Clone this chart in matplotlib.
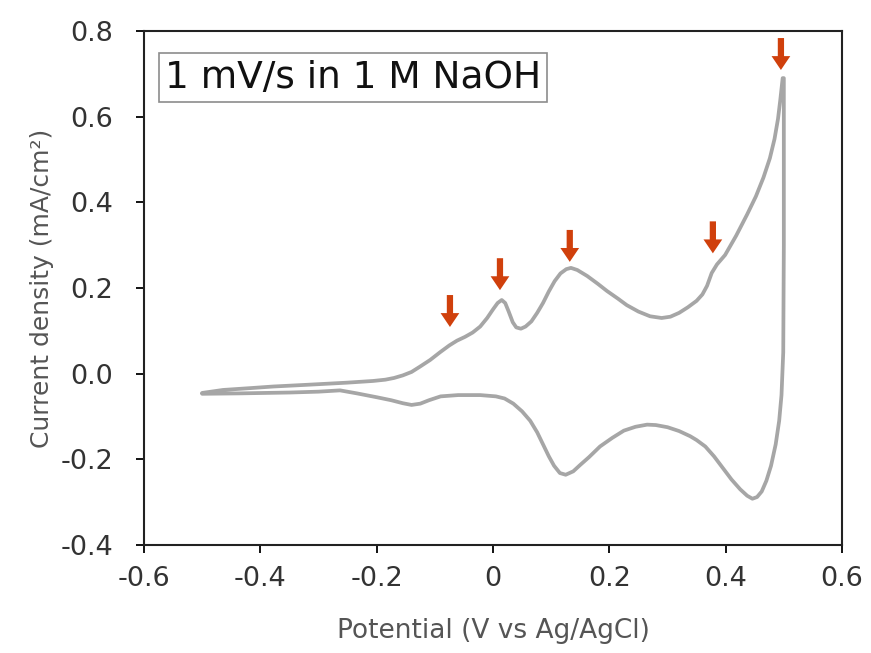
import matplotlib
matplotlib.use("Agg")
import matplotlib.pyplot as plt

# anodic sweep, -0.5 V -> 0.5 V
fwd_v = [-0.500, -0.464, -0.420, -0.378, -0.320, -0.251, -0.206, -0.185, -0.170,
         -0.155, -0.140, -0.126, -0.108, -0.091, -0.075, -0.062, -0.048, -0.035,
         -0.022, -0.010, 0.000, 0.008, 0.015, 0.021, 0.027, 0.034, 0.040, 0.048,
         0.056, 0.066, 0.076, 0.086, 0.096, 0.106, 0.116, 0.126, 0.134, 0.145,
         0.162, 0.180, 0.196, 0.215, 0.230, 0.250, 0.270, 0.290, 0.305, 0.320,
         0.335, 0.350, 0.360, 0.368, 0.376, 0.385, 0.399, 0.418, 0.437, 0.452,
         0.465, 0.476, 0.484, 0.490, 0.494, 0.498]
fwd_j = [-0.045, -0.038, -0.034, -0.030, -0.026, -0.021, -0.017, -0.014, -0.010,
         -0.004, 0.004, 0.016, 0.032, 0.050, 0.066, 0.077, 0.086, 0.096,
         0.110, 0.130, 0.150, 0.165, 0.172, 0.165, 0.145, 0.120, 0.108, 0.105,
         0.110, 0.122, 0.142, 0.165, 0.192, 0.216, 0.234, 0.244, 0.247, 0.242,
         0.228, 0.210, 0.193, 0.175, 0.160, 0.145, 0.134, 0.130, 0.133, 0.142,
         0.155, 0.170, 0.185, 0.205, 0.235, 0.255, 0.277, 0.322, 0.372, 0.414,
         0.458, 0.503, 0.548, 0.595, 0.640, 0.690]

# cathodic sweep, 0.5 V -> -0.5 V
rev_v = [0.500, 0.500, 0.499, 0.496, 0.492, 0.486, 0.478, 0.470, 0.462, 0.454,
         0.446, 0.437, 0.425, 0.410, 0.395, 0.380, 0.365, 0.350, 0.339, 0.320,
         0.300, 0.280, 0.265, 0.245, 0.225, 0.205, 0.184, 0.165, 0.150, 0.138,
         0.125, 0.115, 0.105, 0.096, 0.086, 0.076, 0.064, 0.050, 0.035, 0.020,
         0.005, -0.022, -0.060, -0.090, -0.110, -0.125, -0.140, -0.155, -0.175,
         -0.200, -0.234, -0.263, -0.300, -0.349, -0.435, -0.500]
rev_j = [0.690, 0.300, 0.050, -0.050, -0.110, -0.165, -0.215, -0.250, -0.275, -0.288,
         -0.292, -0.285, -0.270, -0.247, -0.220, -0.193, -0.170, -0.155, -0.146, -0.134,
         -0.125, -0.120, -0.119, -0.124, -0.133, -0.150, -0.170, -0.195, -0.213, -0.228,
         -0.236, -0.232, -0.215, -0.193, -0.165, -0.137, -0.110, -0.088, -0.070, -0.058,
         -0.053, -0.050, -0.050, -0.053, -0.062, -0.070, -0.073, -0.069, -0.062,
         -0.055, -0.046, -0.039, -0.042, -0.044, -0.046, -0.047]

# oxidation features marked with arrows
arrow_v = [-0.074, 0.012, 0.132, 0.378, 0.495]
arrow_j = [0.109, 0.195, 0.261, 0.281, 0.709]

x_ticks = [-0.6, -0.4, -0.2, 0.0, 0.2, 0.4, 0.6]
x_labels = ["-0.6", "-0.4", "-0.2", "0", "0.2", "0.4", "0.6"]
y_ticks = [-0.4, -0.2, 0.0, 0.2, 0.4, 0.6, 0.8]
y_labels = ["-0.4", "-0.2", "0.0", "0.2", "0.4", "0.6", "0.8"]

fig = plt.figure(figsize=(8.71, 6.53), dpi=100)
ax = fig.add_axes([0.1653, 0.1654, 0.8014, 0.7871])

ax.plot(fwd_v + rev_v, fwd_j + rev_j, color="#a6a6a6", lw=2.7,
        solid_joinstyle="round", solid_capstyle="round")

for v, j in zip(arrow_v, arrow_j):
    ax.annotate("", xy=(v, j), xytext=(0, 23), textcoords="offset points",
                arrowprops=dict(arrowstyle="simple,head_length=1.0,head_width=1.35,tail_width=0.45",
                                color="#d0400c", lw=0, mutation_scale=10,
                                shrinkA=0, shrinkB=0))

ax.text(0.030, 0.9095, "1 mV/s in 1 M NaOH", transform=ax.transAxes,
        ha="left", va="center", fontsize=27, color="#111111",
        bbox=dict(boxstyle="square,pad=0.17", fc="white", ec="#8c8c8c", lw=1.2))

ax.set_xlim(-0.6, 0.6)
ax.set_ylim(-0.4, 0.8)
ax.set_xticks(x_ticks)
ax.set_xticklabels(x_labels)
ax.set_yticks(y_ticks)
ax.set_yticklabels(y_labels)
ax.tick_params(direction="out", length=6, width=1.3, labelsize=19.5,
               labelcolor="#333333")
ax.tick_params(axis="y", pad=16)
ax.tick_params(axis="x", pad=9)

for s in ax.spines.values():
    s.set_linewidth(1.5)
    s.set_color("#222222")

ax.set_xlabel("Potential (V vs Ag/AgCl)", fontsize=19, color="#555555", labelpad=19)
ax.set_ylabel("Current density (mA/cm²)", fontsize=18, color="#555555", labelpad=5)

fig.savefig("out.png", dpi=100)
